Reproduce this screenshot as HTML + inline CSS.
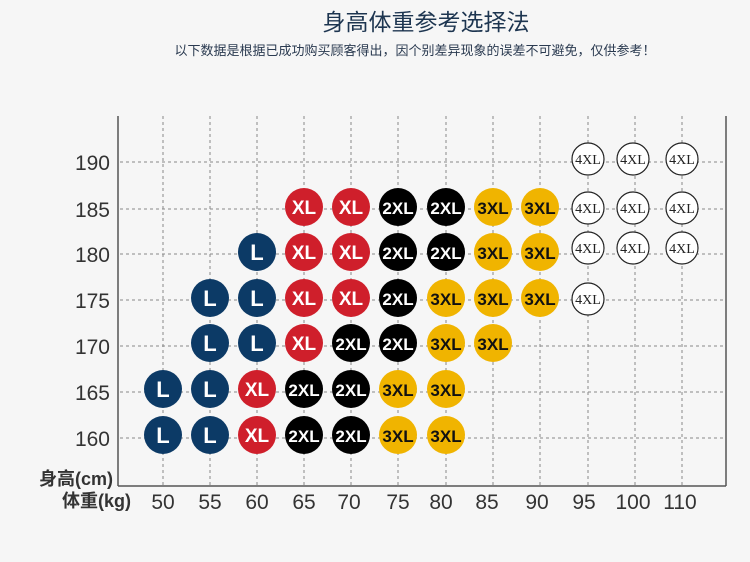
<!DOCTYPE html>
<html><head><meta charset="utf-8"><style>
html,body{margin:0;padding:0;background:#f6f6f6;}
svg{display:block;}
</style></head><body>
<svg width="750" height="562" viewBox="0 0 750 562" xmlns="http://www.w3.org/2000/svg">
<rect width="750" height="562" fill="#f6f6f6"/>
<text x="426" y="30" text-anchor="middle" font-family="'Liberation Sans','Noto Sans CJK SC',sans-serif" font-size="23" fill="#1d3550">身高体重参考选择法</text>
<text x="415" y="55" text-anchor="middle" font-family="'Liberation Sans','Noto Sans CJK SC',sans-serif" font-size="13" fill="#2a3a50">以下数据是根据已成功购买顾客得出，因个别差异现象的误差不可避免，仅供参考！</text>
<g stroke="#888" stroke-width="1" stroke-dasharray="3,3" fill="none">
<line x1="120" y1="162" x2="725" y2="162"/><line x1="120" y1="209" x2="725" y2="209"/><line x1="120" y1="254" x2="725" y2="254"/><line x1="120" y1="300" x2="725" y2="300"/><line x1="120" y1="346" x2="725" y2="346"/><line x1="120" y1="392" x2="725" y2="392"/><line x1="120" y1="438" x2="725" y2="438"/>
<line x1="163" y1="116" x2="163" y2="485"/><line x1="210" y1="116" x2="210" y2="485"/><line x1="257" y1="116" x2="257" y2="485"/><line x1="304" y1="116" x2="304" y2="485"/><line x1="351" y1="116" x2="351" y2="485"/><line x1="398" y1="116" x2="398" y2="485"/><line x1="446" y1="116" x2="446" y2="485"/><line x1="493" y1="116" x2="493" y2="485"/><line x1="540" y1="116" x2="540" y2="485"/><line x1="588" y1="116" x2="588" y2="485"/><line x1="635" y1="116" x2="635" y2="485"/><line x1="682" y1="116" x2="682" y2="485"/>
</g>
<g stroke="#555" stroke-width="1.5">
<line x1="118" y1="116" x2="118" y2="486"/><line x1="118" y1="486" x2="726" y2="486"/><line x1="726" y1="116" x2="726" y2="486"/>
</g>
<g font-family="'Liberation Sans',sans-serif" font-size="21" fill="#333" text-anchor="end">
<text x="110" y="170">190</text><text x="110" y="217">185</text><text x="110" y="262">180</text><text x="110" y="308">175</text><text x="110" y="354">170</text><text x="110" y="400">165</text><text x="110" y="446">160</text>
</g>
<g font-family="'Liberation Sans','Noto Sans CJK SC',sans-serif" font-size="18" fill="#333" font-weight="bold">
<text x="113" y="485" text-anchor="end">身高(cm)</text>
<text x="131" y="507" text-anchor="end">体重(kg)</text>
</g>
<g font-family="'Liberation Sans',sans-serif" font-size="21" fill="#333" text-anchor="middle">
<text x="163" y="509">50</text><text x="210" y="509">55</text><text x="257" y="509">60</text><text x="304" y="509">65</text><text x="349" y="509">70</text><text x="398" y="509">75</text><text x="441" y="509">80</text><text x="487" y="509">85</text><text x="537" y="509">90</text><text x="584" y="509">95</text><text x="633" y="509">100</text><text x="680" y="509">110</text>
</g>
<g font-family="'Liberation Sans',sans-serif" font-weight="bold" text-anchor="middle">
<circle cx="304" cy="207" r="19" fill="#cf1f2b"/><text x="304" y="214" font-size="19" fill="#fff">XL</text>
<circle cx="351" cy="207" r="19" fill="#cf1f2b"/><text x="351" y="214" font-size="19" fill="#fff">XL</text>
<circle cx="398" cy="207" r="19" fill="#000"/><text x="398" y="214" font-size="17" fill="#fff">2XL</text>
<circle cx="446" cy="207" r="19" fill="#000"/><text x="446" y="214" font-size="17" fill="#fff">2XL</text>
<circle cx="493" cy="207" r="19" fill="#f0b400"/><text x="493" y="214" font-size="17" fill="#111">3XL</text>
<circle cx="540" cy="207" r="19" fill="#f0b400"/><text x="540" y="214" font-size="17" fill="#111">3XL</text>
<circle cx="257" cy="252" r="19" fill="#0c3a66"/><text x="257" y="260" font-size="22" fill="#fff">L</text>
<circle cx="304" cy="252" r="19" fill="#cf1f2b"/><text x="304" y="259" font-size="19" fill="#fff">XL</text>
<circle cx="351" cy="252" r="19" fill="#cf1f2b"/><text x="351" y="259" font-size="19" fill="#fff">XL</text>
<circle cx="398" cy="252" r="19" fill="#000"/><text x="398" y="259" font-size="17" fill="#fff">2XL</text>
<circle cx="446" cy="252" r="19" fill="#000"/><text x="446" y="259" font-size="17" fill="#fff">2XL</text>
<circle cx="493" cy="252" r="19" fill="#f0b400"/><text x="493" y="259" font-size="17" fill="#111">3XL</text>
<circle cx="540" cy="252" r="19" fill="#f0b400"/><text x="540" y="259" font-size="17" fill="#111">3XL</text>
<circle cx="210" cy="298" r="19" fill="#0c3a66"/><text x="210" y="306" font-size="22" fill="#fff">L</text>
<circle cx="257" cy="298" r="19" fill="#0c3a66"/><text x="257" y="306" font-size="22" fill="#fff">L</text>
<circle cx="304" cy="298" r="19" fill="#cf1f2b"/><text x="304" y="305" font-size="19" fill="#fff">XL</text>
<circle cx="351" cy="298" r="19" fill="#cf1f2b"/><text x="351" y="305" font-size="19" fill="#fff">XL</text>
<circle cx="398" cy="298" r="19" fill="#000"/><text x="398" y="305" font-size="17" fill="#fff">2XL</text>
<circle cx="446" cy="298" r="19" fill="#f0b400"/><text x="446" y="305" font-size="17" fill="#111">3XL</text>
<circle cx="493" cy="298" r="19" fill="#f0b400"/><text x="493" y="305" font-size="17" fill="#111">3XL</text>
<circle cx="540" cy="298" r="19" fill="#f0b400"/><text x="540" y="305" font-size="17" fill="#111">3XL</text>
<circle cx="210" cy="343" r="19" fill="#0c3a66"/><text x="210" y="351" font-size="22" fill="#fff">L</text>
<circle cx="257" cy="343" r="19" fill="#0c3a66"/><text x="257" y="351" font-size="22" fill="#fff">L</text>
<circle cx="304" cy="343" r="19" fill="#cf1f2b"/><text x="304" y="350" font-size="19" fill="#fff">XL</text>
<circle cx="351" cy="343" r="19" fill="#000"/><text x="351" y="350" font-size="17" fill="#fff">2XL</text>
<circle cx="398" cy="343" r="19" fill="#000"/><text x="398" y="350" font-size="17" fill="#fff">2XL</text>
<circle cx="446" cy="343" r="19" fill="#f0b400"/><text x="446" y="350" font-size="17" fill="#111">3XL</text>
<circle cx="493" cy="343" r="19" fill="#f0b400"/><text x="493" y="350" font-size="17" fill="#111">3XL</text>
<circle cx="163" cy="389" r="19" fill="#0c3a66"/><text x="163" y="397" font-size="22" fill="#fff">L</text>
<circle cx="210" cy="389" r="19" fill="#0c3a66"/><text x="210" y="397" font-size="22" fill="#fff">L</text>
<circle cx="257" cy="389" r="19" fill="#cf1f2b"/><text x="257" y="396" font-size="19" fill="#fff">XL</text>
<circle cx="304" cy="389" r="19" fill="#000"/><text x="304" y="396" font-size="17" fill="#fff">2XL</text>
<circle cx="351" cy="389" r="19" fill="#000"/><text x="351" y="396" font-size="17" fill="#fff">2XL</text>
<circle cx="398" cy="389" r="19" fill="#f0b400"/><text x="398" y="396" font-size="17" fill="#111">3XL</text>
<circle cx="446" cy="389" r="19" fill="#f0b400"/><text x="446" y="396" font-size="17" fill="#111">3XL</text>
<circle cx="163" cy="435" r="19" fill="#0c3a66"/><text x="163" y="443" font-size="22" fill="#fff">L</text>
<circle cx="210" cy="435" r="19" fill="#0c3a66"/><text x="210" y="443" font-size="22" fill="#fff">L</text>
<circle cx="257" cy="435" r="19" fill="#cf1f2b"/><text x="257" y="442" font-size="19" fill="#fff">XL</text>
<circle cx="304" cy="435" r="19" fill="#000"/><text x="304" y="442" font-size="17" fill="#fff">2XL</text>
<circle cx="351" cy="435" r="19" fill="#000"/><text x="351" y="442" font-size="17" fill="#fff">2XL</text>
<circle cx="398" cy="435" r="19" fill="#f0b400"/><text x="398" y="442" font-size="17" fill="#111">3XL</text>
<circle cx="446" cy="435" r="19" fill="#f0b400"/><text x="446" y="442" font-size="17" fill="#111">3XL</text>
</g>
<g font-family="'Liberation Serif',serif" font-size="14" text-anchor="middle" fill="#222">
<g fill="#fff" stroke="#222" stroke-width="1.2">
<circle cx="588" cy="159" r="16"/><circle cx="633" cy="159" r="16"/><circle cx="682" cy="159" r="16"/>
<circle cx="588" cy="208" r="16"/><circle cx="633" cy="208" r="16"/><circle cx="682" cy="208" r="16"/>
<circle cx="588" cy="248" r="16"/><circle cx="633" cy="248" r="16"/><circle cx="682" cy="248" r="16"/>
<circle cx="588" cy="299" r="16"/>
</g>
<text x="588" y="164">4XL</text><text x="633" y="164">4XL</text><text x="682" y="164">4XL</text>
<text x="588" y="213">4XL</text><text x="633" y="213">4XL</text><text x="682" y="213">4XL</text>
<text x="588" y="253">4XL</text><text x="633" y="253">4XL</text><text x="682" y="253">4XL</text>
<text x="588" y="304">4XL</text>
</g>
</svg>
</body></html>
